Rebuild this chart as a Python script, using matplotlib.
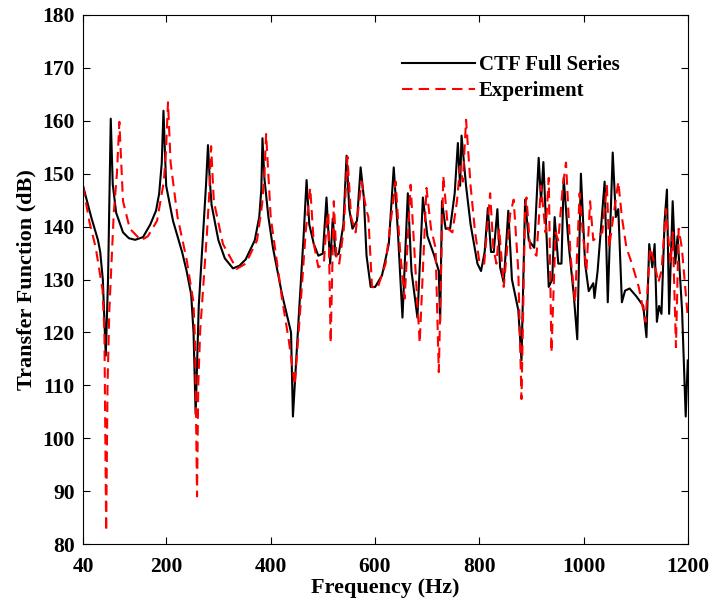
import matplotlib
matplotlib.use("Agg")
import matplotlib.pyplot as plt

# CTF Full Series (black)
ctf_f = [40, 55.7, 68.8, 73, 78, 83.6, 88, 93.2, 97, 103.6, 116.7, 128, 140, 155, 169, 180, 186, 191, 194.3,
         199.5, 212.6, 230, 238.7, 247.4, 252, 256, 262, 270, 276, 279.7, 283, 286.6, 299.7, 312, 327.6, 340, 352,
         369.4, 378, 382, 384.2, 388, 395.6, 404.3, 421.7, 439, 442.6, 455, 463, 468.8, 474, 482.7, 491.4, 500,
         507, 510.6, 514, 519, 524.5, 530.6, 539.4, 545.5, 550.7, 556.8, 565.5, 572.5, 578.6, 583.8, 591.7,
         600.4, 613.5, 626.5, 636, 644, 652.7, 663, 670, 681.4, 691.9, 700.6, 713.7, 722.4, 725, 728.5, 735.5,
         744, 752.9, 759, 763.3, 766, 774.7, 783.4, 796.5, 803.4, 810.4, 816.5, 822.6, 827.8, 834.8, 840, 847,
         855.7, 862.7, 874.9, 881, 888, 895, 905.4, 914, 918.5, 923, 933.3, 940, 944.6, 951.6, 957.7, 962,
         970.7, 981.2, 988, 995, 1003, 1010, 1018.7, 1021, 1027, 1040.5, 1046.5, 1056, 1062, 1066.7, 1073.6,
         1079.7, 1088.4, 1101.5, 1114.6, 1120.7, 1126, 1132, 1136.4, 1140.7, 1145, 1149.5, 1155.5, 1160,
         1164.2, 1171, 1176, 1180.4, 1189, 1196, 1200]
ctf_db = [147.7, 141.8, 137.4, 135.2, 130, 115.6, 130, 160.4, 148, 142.6, 138.9, 137.8, 137.5, 138, 140.4, 143, 146.2, 152, 161.9,
          147.7, 141.1, 135.2, 131.6, 127.2, 120, 104.6, 125, 138, 148, 155.4, 149, 144.1, 137.4, 134, 132.1, 132.6, 133.8,
          137.4, 141.8, 147, 156.7, 149, 141.8, 136, 127.2, 120, 104.1, 125, 138, 148.8, 140.4, 136.7, 134.5, 134.9,
          145.5, 138.9, 133, 141.5, 134.5, 134.9, 140.4, 153.4, 143.3, 139.6, 141.1, 151.2, 145.5, 134.5, 128.6,
          128.6, 130.8, 136.7, 151.2, 138.9, 122.8, 146.3, 131.6, 122.8, 145.5, 138.2, 134.5, 131.6, 122, 144.8, 139.6,
          139.6, 146.3, 155.8, 147.7, 157.2, 147.7, 140.4, 133, 131.6, 135.2, 143.5, 135.2, 135.2, 143.3, 132.3, 129.4,
          143, 130, 124.2, 114.7, 145.1, 137.4, 136, 153, 144.8, 152.2, 128.6, 130, 141.8, 133, 133, 149.2,
          137.4, 127.2, 118.7, 150, 133, 127.8, 129.3, 126.5, 131.6, 148.5, 125.7, 154, 141.8, 143.3, 125.7,
          127.9, 128.3, 126.8, 125, 119.1, 136.7, 132.3, 136.7, 122, 125, 123.5, 141, 147,
          123.5, 144.8, 133, 138.2, 124.2, 104.1, 114.7]

# Experiment (red dashed)
exp_f = [40, 52, 64.4, 77.5, 81, 84.4, 87, 90.5, 99, 105, 109.7, 116.7, 129.8, 151.5, 164.6, 182, 195, 199, 203,
         208, 221.3, 238.7, 251.8, 255, 258.7, 261, 264.8, 277.8, 282, 285.7, 290.9, 308.4, 334.6, 352, 373.8,
         383.4, 388, 391.2, 400, 421.7, 434.8, 446.1, 456.6, 467, 475.8, 482.7, 491.4, 501.9, 507, 510.6, 515,
         521, 526.3, 531.5, 540.2, 547.2, 554.2, 562.9, 574.2, 583, 587.3, 594.3, 604.7, 620.4, 639.6, 648.3,
         657, 668.3, 676.2, 685.8, 698.8, 707.5, 716.2, 722.4, 731, 740, 748.5, 757.3, 763.3, 768.5, 774.7,
         783.4, 792, 800.8, 809.5, 820.9, 827, 833, 838.3, 847, 859.2, 866, 874.9, 881, 888, 890.6, 897.6,
         909.8, 918.5, 927.2, 933.3, 938.5, 946.4, 951.6, 960.3, 966.4, 975.1, 983.8, 992.5, 998.6, 1005.6,
         1012.6, 1018.7, 1027.4, 1036, 1044.8, 1049.2, 1056, 1066.7, 1073.6, 1082.3, 1092.8, 1105.9, 1119,
         1127.7, 1136.4, 1143.3, 1149.5, 1158.2, 1166.9, 1171.2, 1177.3, 1182.5, 1188.6, 1200]
exp_db = [147.7, 141, 136, 128, 120, 82.4, 110, 124.2, 142.6, 150, 159.8, 144.8, 139.6, 137.4, 138.2, 141.1, 148.5, 154, 163.5,
          152.1, 141.8, 133.8, 125.7, 118, 89, 110, 120.4, 138.9, 146, 155.2, 144.8, 136.7, 132, 133, 137.4,
          144.1, 150, 157.5, 141.8, 126.4, 118.4, 110, 124.2, 138.9, 147.3, 136.7, 132.3, 133, 140.4, 142.6, 118,
          144.8, 133.8, 133, 139.6, 153.2, 141.8, 138.9, 148.5, 143.3, 141.8, 128.6, 128.3, 133, 148.5, 135.2,
          126.4, 147.9, 134.5, 118, 147.3, 139.6, 136, 112.5, 149.6, 139.6, 138.9, 144.8, 151.4, 148.5, 160.2,
          147.7, 138.9, 133, 133, 146.3, 136, 133, 139.6, 128.6, 142.3, 145.1, 131.6, 107.4, 144, 145.5, 136,
          134.5, 147.7, 138.9, 149.2, 116.2, 138.9, 137.4, 147.7, 152.1, 134.5, 125.7, 146.3, 138.9, 131.6,
          144.8, 137.4, 138.2, 138.9, 147.7, 136, 141.1, 148.5, 141.8, 136, 133, 128.6, 122,
          136, 133, 129.4, 131.6, 143.3, 133, 138.9, 117.2, 139.6, 136, 122.8]

x_ticks = [40, 200, 400, 600, 800, 1000, 1200]
y_ticks = [80, 90, 100, 110, 120, 130, 140, 150, 160, 170, 180]

plt.rcParams['font.family'] = ['Liberation Serif', 'DejaVu Serif']
plt.rcParams['font.weight'] = 'bold'

fig = plt.figure(figsize=(7.12, 6.09), dpi=100)
ax = fig.add_axes([0.1166, 0.1067, 0.8494, 0.8687])

ax.plot(ctf_f, ctf_db, color='black', lw=1.5, label='CTF Full Series')
ax.plot(exp_f, exp_db, color='#ff0000', lw=1.5, ls=(0, (5, 3)), label='Experiment')

ax.set_xlim(40, 1200)
ax.set_ylim(80, 180)
ax.set_xticks(x_ticks)
ax.set_yticks(y_ticks)
ax.tick_params(direction='in', top=True, right=True, length=5, width=0.8, labelsize=15.5)
ax.tick_params(axis='x', pad=9)
ax.tick_params(axis='y', pad=6)
for lab in ax.get_xticklabels() + ax.get_yticklabels():
    lab.set_fontweight('bold')
for sp in ax.spines.values():
    sp.set_linewidth(0.8)

ax.set_xlabel('Frequency (Hz)', fontsize=16, fontweight='bold', labelpad=1)
ax.set_ylabel('Transfer Function (dB)', fontsize=16, fontweight='bold', labelpad=4)

leg = ax.legend(loc='upper left', bbox_to_anchor=(0.496, 0.96), frameon=False,
                prop={'family': 'Liberation Serif', 'weight': 'bold', 'size': 15},
                handlelength=3.5, handletextpad=0.2, labelspacing=0.3)

fig.savefig('out.png', dpi=100)
